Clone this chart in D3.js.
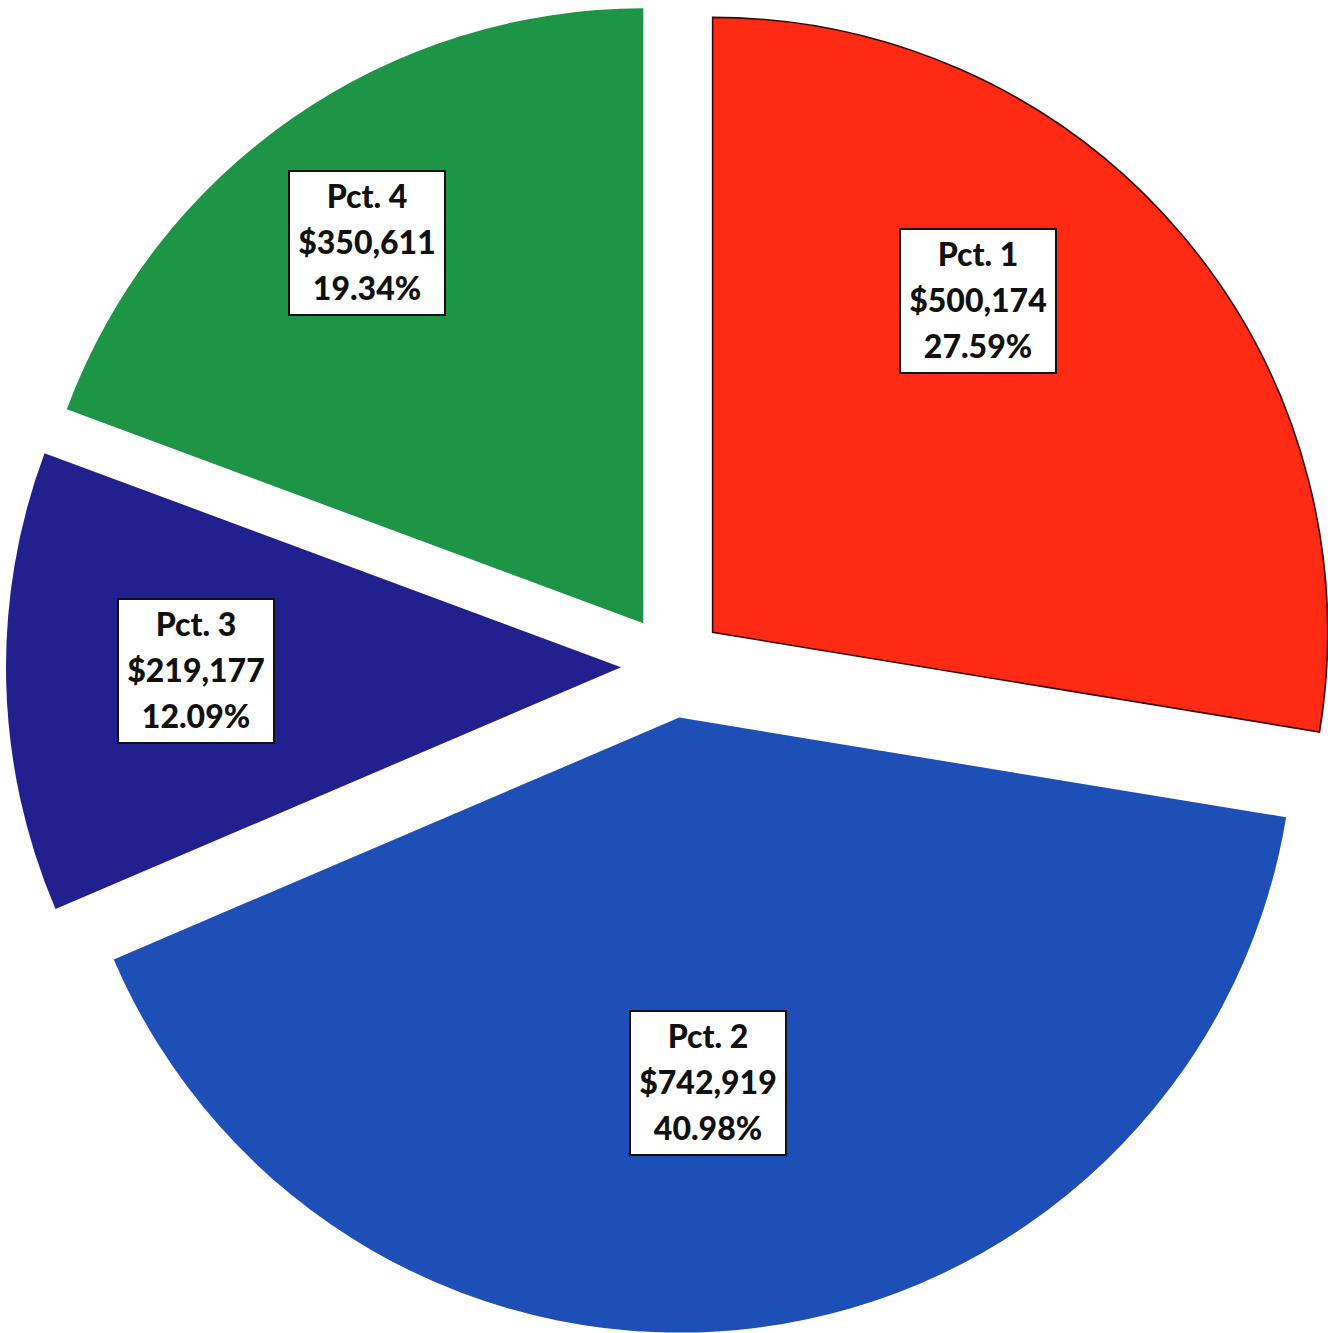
<!DOCTYPE html>
<html>
<head>
<meta charset="utf-8">
<script src="https://cdn.jsdelivr.net/npm/d3@7"></script>
<style>
  html, body { margin: 0; padding: 0; background: #ffffff; }
  svg { display: block; }
</style>
</head>
<body>
<svg id="chart" width="1328" height="1333"></svg>
<script>
// Precinct totals
const categories = ["Pct. 1", "Pct. 2", "Pct. 3", "Pct. 4"];
const amounts = [500174, 742919, 219177, 350611];
const percents = [27.59, 40.98, 12.09, 19.34];
const colors = ["#fe2a14", "#1d4fb6", "#22208e", "#1e9447"];
const outlines = ["#3a0904", "none", "none", "none"];

// Layout
const width = 1328, height = 1333;
const cx = 673, cy = 666;
const radius = 615;
const explode = 52;
// label box centres, relative to the pie centre
const labelAnchors = [[305, -365], [35, 417], [-477, 5], [-306, -423]];

const data = categories.map((c, i) => ({
  name: c, amount: amounts[i], pct: percents[i], color: colors[i], outline: outlines[i], anchor: labelAnchors[i]
}));

const svg = d3.select("#chart");
const g = svg.append("g").attr("transform", `translate(${cx},${cy})`);

const pie = d3.pie().sort(null).value(d => d.pct).startAngle(0).endAngle(2 * Math.PI);
const arc = d3.arc().innerRadius(0).outerRadius(radius);
const arcs = pie(data);

const fmtMoney = v => "$" + d3.format(",")(v);
const fmtPct = v => d3.format(".2f")(v) + "%";

const slices = g.selectAll("g.slice").data(arcs).join("g")
  .attr("class", "slice")
  .attr("transform", d => {
    const mid = (d.startAngle + d.endAngle) / 2;
    return `translate(${explode * Math.sin(mid)},${-explode * Math.cos(mid)})`;
  });

slices.append("path")
  .attr("d", arc)
  .attr("fill", d => d.data.color)
  .attr("stroke", d => d.data.outline)
  .attr("stroke-width", 1.6)
  .attr("stroke-linejoin", "miter");

// Data labels in white boxes
const labels = g.selectAll("g.label").data(arcs).join("g")
  .attr("class", "label")
  .attr("transform", d => `translate(${d.data.anchor[0]},${d.data.anchor[1]})`);

const lineH = 46;
labels.each(function(d) {
  const lg = d3.select(this);
  const rect = lg.append("rect")
    .attr("fill", "#ffffff")
    .attr("stroke", "#111111")
    .attr("stroke-width", 2);
  const text = lg.append("text")
    .attr("text-anchor", "middle")
    .attr("font-family", "Lato, 'Open Sans', sans-serif")
    .attr("font-weight", 900)
    .attr("font-size", 32)
    .attr("fill", "#111111");
  const lines = [d.data.name, fmtMoney(d.data.amount), fmtPct(d.data.pct)];
  lines.forEach((t, i) => {
    text.append("tspan")
      .attr("x", 0)
      .attr("y", (i - 1) * lineH)
      .attr("dy", "0.35em")
      .text(t);
  });
  const bb = text.node().getBBox();
  const w = Math.max(bb.width + 16, 156), h = 144;
  rect.attr("x", -w / 2).attr("y", -h / 2).attr("width", w).attr("height", h);
});
</script>
</body>
</html>
